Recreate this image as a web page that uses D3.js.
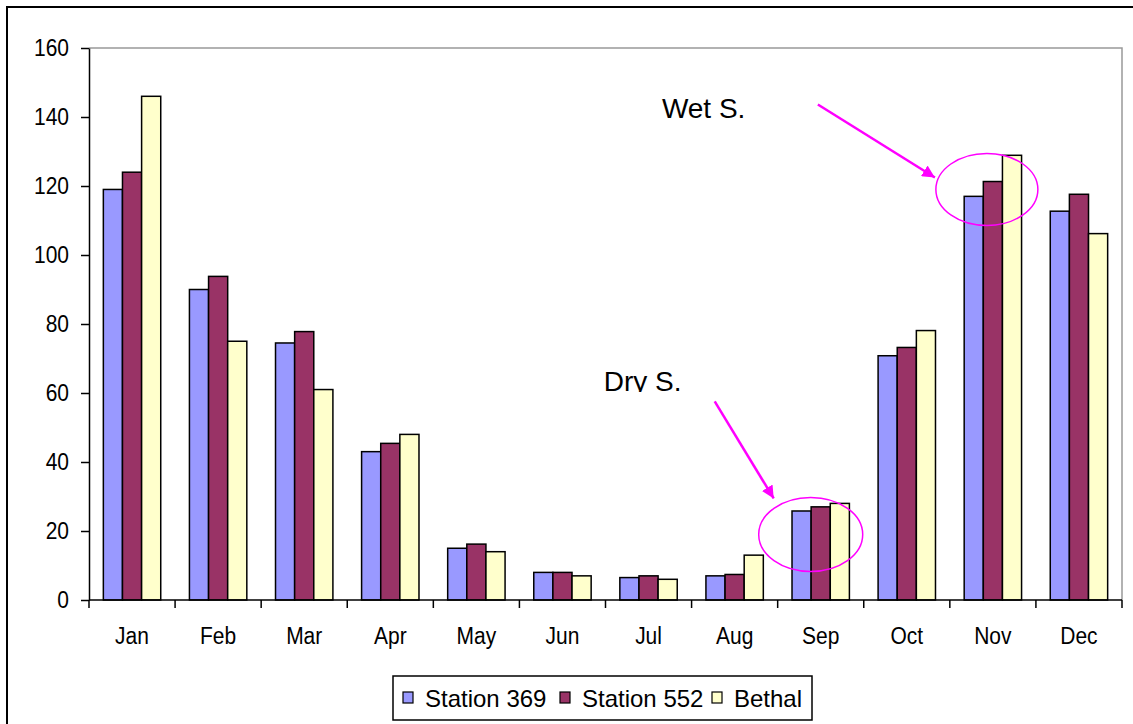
<!DOCTYPE html>
<html><head><meta charset="utf-8">
<script src="https://cdn.jsdelivr.net/npm/d3@7"></script>
<style>body{margin:0;background:#fff}svg{display:block}text{font-family:"Liberation Sans",Arial,sans-serif}</style>
</head><body><svg id="c" width="1133" height="724"></svg>
<script>
const months = ["Jan","Feb","Mar","Apr","May","Jun","Jul","Aug","Sep","Oct","Nov","Dec"];
const seriesNames = ["Station 369","Station 552","Bethal"];
const station369 = [119,90,74.5,43,15,8,6.5,7,25.8,70.8,117,112.7];
const station552 = [124,93.8,77.8,45.4,16.2,8,7,7.4,27,73.2,121.3,117.6];
const bethal = [146,75,61,48,14,7,6,13,28,78.1,128.9,106.2];
const yTicks = [0,20,40,60,80,100,120,140,160];
const colors = ["#9999FF","#993366","#FFFFCC"];
const annotations = [
  {label:"Wet S.", month:"Nov", value:119},
  {label:"Dry S.", month:"Sep", value:19}
];

const svg = d3.select("#c");
const L=89, R=1122, T=48, B=600;
const x = d3.scaleBand().domain(months).range([L,R]).paddingInner(0).paddingOuter(0);
const x1 = d3.scaleBand().domain(seriesNames).range([0,x.bandwidth()]).paddingInner(0).paddingOuter(0.75);
const y = d3.scaleLinear().domain([0,160]).range([B,T]);
const data = [station369, station552, bethal];

// outer frame
svg.append("path").attr("d",`M7,724 V7 H1133`).attr("fill","none").attr("stroke","#000").attr("stroke-width",2);

// plot border (gray top/right)
svg.append("path").attr("d",`M${L},${T} H${R} V${B}`).attr("fill","none").attr("stroke","#999").attr("stroke-width",1.5);

// bars
months.forEach((m,i)=>{
  seriesNames.forEach((s,j)=>{
    svg.append("rect")
      .attr("x", x(m)+x1(s)).attr("y", y(data[j][i]))
      .attr("width", x1.bandwidth()).attr("height", y(0)-y(data[j][i]))
      .attr("fill", colors[j]).attr("stroke","#000").attr("stroke-width",1.5);
  });
});

// y axis
const ya = svg.append("g").attr("transform",`translate(${L},0)`)
  .call(d3.axisLeft(y).tickValues(yTicks).tickSize(8).tickSizeOuter(0).tickPadding(12));
ya.select(".domain").attr("stroke","#000").attr("stroke-width",1.5);
ya.selectAll("line").attr("stroke","#000").attr("stroke-width",1.5);
ya.selectAll("text").attr("font-size",21).attr("fill","#000").attr("font-family","Liberation Sans, Arial, sans-serif")
  .attr("transform","scale(1,1.15)");

// x axis with ticks at band boundaries
const xa = svg.append("g").attr("transform",`translate(0,${B})`);
xa.append("line").attr("x1",L).attr("x2",R).attr("stroke","#000").attr("stroke-width",1.5);
d3.range(months.length+1).forEach(k=>{
  const xp = L + k*x.bandwidth();
  xa.append("line").attr("x1",xp).attr("x2",xp).attr("y1",0).attr("y2",8).attr("stroke","#000").attr("stroke-width",1.5);
});
months.forEach(m=>{
  xa.append("g").attr("transform",`translate(${x(m)+x.bandwidth()/2},44) scale(1,1.15)`)
    .append("text").attr("text-anchor","middle").attr("font-size",21).attr("fill","#000").text(m);
});

// annotations
const mag="#FF00FF";
svg.append("defs").html(`<marker id="ah" viewBox="0 0 10 10" refX="10" refY="5" markerWidth="5" markerHeight="5" orient="auto" markerUnits="strokeWidth"><path d="M0,0 L10,5 L0,10 z" fill="${mag}"/></marker>
<clipPath id="dryclip"><rect x="0" y="0" width="1133" height="392"/></clipPath>`);

// Wet
{
  const a=annotations[0];
  const cx = x(a.month)+x.bandwidth()/2-6, cy=y(a.value);
  svg.append("ellipse").attr("cx",cx).attr("cy",cy).attr("rx",51).attr("ry",36).attr("fill","none").attr("stroke",mag).attr("stroke-width",1.5);
  svg.append("line").attr("x1",cx-169).attr("y1",cy-85).attr("x2",cx-52).attr("y2",cy-12)
    .attr("stroke",mag).attr("stroke-width",2.5).attr("marker-end","url(#ah)");
  svg.append("text").attr("x",cx-325).attr("y",cy-71.5).attr("font-size",28).attr("fill","#000").text(a.label);
}
// Dry
{
  const a=annotations[1];
  const cx = x(a.month)+x.bandwidth()/2-10, cy=y(a.value);
  svg.append("ellipse").attr("cx",cx).attr("cy",cy).attr("rx",52).attr("ry",37).attr("fill","none").attr("stroke",mag).attr("stroke-width",1.5);
  svg.append("line").attr("x1",cx-96).attr("y1",cy-133).attr("x2",cx-37).attr("y2",cy-36)
    .attr("stroke",mag).attr("stroke-width",2.5).attr("marker-end","url(#ah)");
  svg.append("text").attr("x",cx-207).attr("y",cy-143.5).attr("font-size",28).attr("fill","#000")
    .attr("clip-path","url(#dryclip)").text(a.label);
}

// legend
const lg = svg.append("g");
lg.append("rect").attr("x",393).attr("y",676).attr("width",419).attr("height",44).attr("fill","#fff").attr("stroke","#000").attr("stroke-width",1.5);
const lx=[403,560,712];
seriesNames.forEach((s,j)=>{
  lg.append("rect").attr("x",lx[j]).attr("y",692).attr("width",10).attr("height",11).attr("fill",colors[j]).attr("stroke","#000").attr("stroke-width",1.2);
  lg.append("text").attr("x",lx[j]+22).attr("y",707).attr("font-size",24).attr("fill","#000").text(s);
});
</script></body></html>
